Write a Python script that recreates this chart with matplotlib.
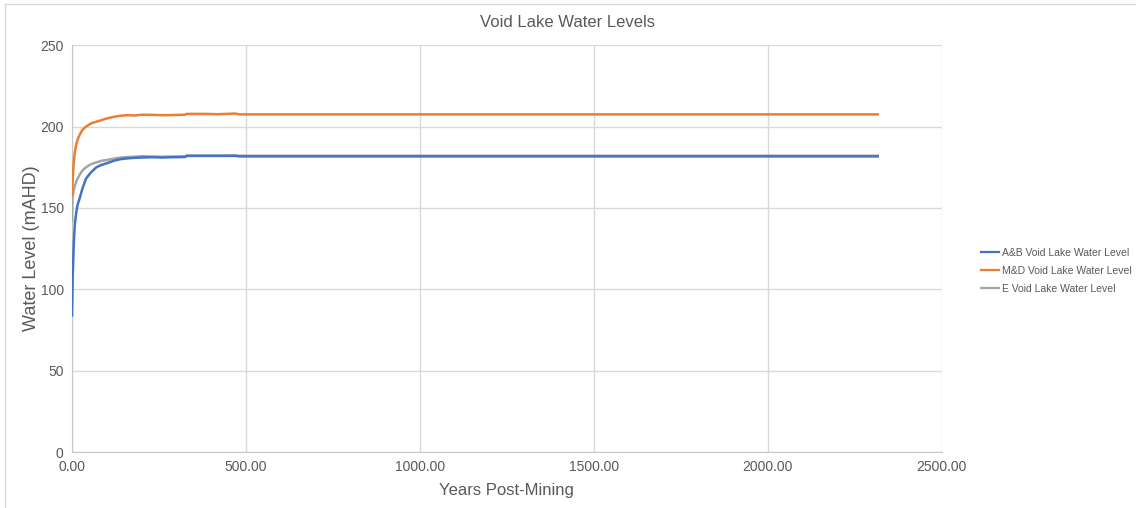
import numpy as np
import matplotlib.pyplot as plt
from matplotlib.lines import Line2D

plt.rcParams['font.family'] = ['Liberation Sans', 'DejaVu Sans']

# years after mining stopped, with lake levels (mAHD) for each void
years = [0, 1, 2, 5, 8, 12, 16, 22, 30, 40, 55, 70, 85, 100, 120, 140, 160,
         180, 200, 230, 260, 290, 325, 330, 380, 420, 470, 480, 600, 1000,
         1500, 2000, 2316]

ab_level = [84, 95, 108, 128, 140, 147, 152, 156, 162, 168, 172, 175, 176.5,
            177.5, 179, 180, 180.5, 180.8, 181, 181.2, 181, 181.2, 181.3, 182,
            182, 182, 182, 181.7, 181.7, 181.7, 181.7, 181.7, 181.7]

md_level = [158, 163, 168, 178, 184, 189, 192, 195, 198, 200, 202, 203, 204,
            205, 206, 206.7, 207, 206.8, 207.3, 207.2, 207, 207.1, 207.3, 207.8,
            207.8, 207.6, 208, 207.5, 207.5, 207.5, 207.5, 207.5, 207.5]

e_level = [142, 155, 158, 161, 163.5, 166, 168, 170.5, 173, 175, 177, 178, 179,
           179.5, 180.3, 181, 181.3, 181.5, 181.8, 181.6, 181.5, 181.6, 181.7,
           182.2, 182.2, 182.2, 182.3, 182.1, 182.1, 182.1, 182.1, 182.1, 182.1]

series_names = ['A&B Void Lake Water Level', 'M&D Void Lake Water Level',
                'E Void Lake Water Level']
colors = ['#4472c4', '#ed7d31', '#a5a5a5']
txt = '#595959'

fig = plt.figure(figsize=(11.36, 5.08), dpi=100)
ax = fig.add_axes([0.0634, 0.110, 0.7656, 0.801])

# grey drawn first so blue sits on top where they overlap
ax.plot(years, e_level, color=colors[2], lw=1.8, zorder=3)
ax.plot(years, md_level, color=colors[1], lw=1.8, zorder=3)
ax.plot(years, ab_level, color=colors[0], lw=1.8, zorder=4)

ax.set_xlim(0, 2500)
ax.set_ylim(0, 250)
ax.set_xticks(np.arange(0, 2501, 500))
ax.set_xticklabels(['%.2f' % v for v in np.arange(0, 2501, 500)])
ax.set_yticks(np.arange(0, 251, 50))
ax.grid(True, color='#d9d9d9', lw=1)
ax.set_axisbelow(True)
for s in ['top', 'right']:
    ax.spines[s].set_visible(False)
for s in ['left', 'bottom']:
    ax.spines[s].set_color('#c8c8c8')
ax.tick_params(length=0, labelsize=10, colors=txt, pad=6)

ax.set_xlabel('Years Post-Mining', fontsize=12, color=txt, labelpad=6)
ax.set_ylabel('Water Level (mAHD)', fontsize=13, color=txt)
ax.yaxis.set_label_coords(-0.037, 0.5)
fig.text(0.5, 0.955, 'Void Lake Water Levels', ha='center', va='center',
         fontsize=12, color=txt)

handles = [Line2D([], [], color=c, lw=1.6) for c in colors]
leg = fig.legend(handles, series_names, loc='center left',
                 bbox_to_anchor=(0.855, 0.467), frameon=False, fontsize=7.5,
                 handlelength=1.8, handletextpad=0.25, labelspacing=0.75)
for t in leg.get_texts():
    t.set_color(txt)

# outer chart border
fig.add_artist(Line2D([0.0045, 1], [0.992, 0.992], color='#d9d9d9', lw=1,
                      transform=fig.transFigure))
fig.add_artist(Line2D([0.0045, 0.0045], [0, 0.992], color='#d9d9d9', lw=1,
                      transform=fig.transFigure))

fig.savefig('out.png', dpi=100)
